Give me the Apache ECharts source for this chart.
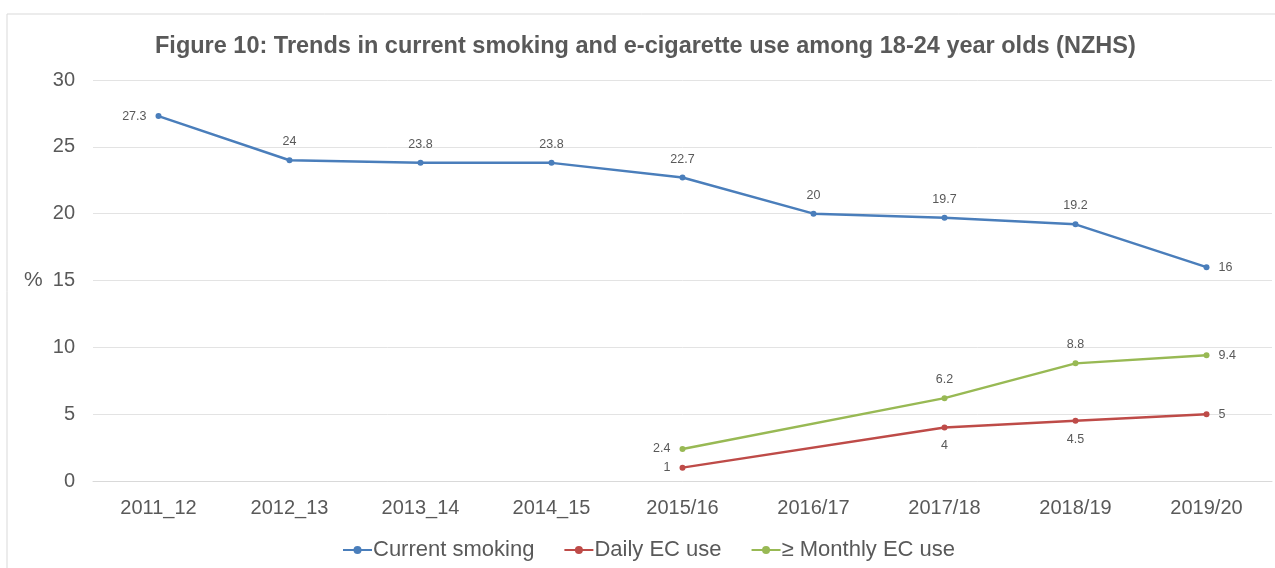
<!DOCTYPE html>
<html><head><meta charset="utf-8">
<script src="https://cdn.jsdelivr.net/npm/echarts@6/dist/echarts.min.js"></script>
<style>html,body{margin:0;padding:0;background:#fff}#c{width:1275px;height:568px}</style>
</head><body><div id="c"></div>
<script>
const categories = ['2011_12','2012_13','2013_14','2014_15','2015/16','2016/17','2017/18','2018/19','2019/20'];
const currentSmoking = [27.3, 24, 23.8, 23.8, 22.7, 20, 19.7, 19.2, 16];
const dailyEC = [null, null, null, null, 1, null, 4, 4.5, 5];
const monthlyEC = [null, null, null, null, 2.4, null, 6.2, 8.8, 9.4];
const yTicks = [0, 5, 10, 15, 20, 25, 30];

const txt = '#595959';
const font = 'Liberation Sans';
function labeled(values, positions){
  return values.map((v,i)=> v==null ? null : {value:v, label:{position:positions[i]}});
}
const chart = echarts.init(document.getElementById('c'), null, {renderer:'canvas'});
chart.setOption({
  animation:false,
  backgroundColor:'#fff',
  textStyle:{fontFamily:font},
  title:{text:'Figure 10: Trends in current smoking and e-cigarette use among 18-24 year olds (NZHS)',
    left:150, top:30, textStyle:{fontFamily:font, fontWeight:'bold', fontSize:23.5, color:txt}},
  graphic:[{type:'rect', shape:{x:7,y:14,width:1300,height:600}, style:{fill:'none', stroke:'#d9d9d9', lineWidth:1}, silent:true},
    {type:'text', left:24, top:270, style:{text:'%', fontSize:21, fill:txt, fontFamily:font}}],
  legend:{bottom:2, left:337, itemGap:29, itemWidth:29, itemHeight:10,
    textStyle:{fontSize:22, color:txt, fontFamily:font, padding:[0,0,0,-4]}},
  grid:{left:93, right:3, top:80, bottom:87, containLabel:false},
  xAxis:{type:'category', data:categories, boundaryGap:true,
    axisLine:{lineStyle:{color:'#d9d9d9'}}, axisTick:{show:false},
    axisLabel:{color:txt, fontSize:20, margin:17, fontFamily:font}},
  yAxis:{type:'value', min:yTicks[0], max:yTicks[yTicks.length-1], interval:5,
    axisLine:{show:false}, axisTick:{show:false},
    splitLine:{lineStyle:{color:'#e3e3e3'}},
    axisLabel:{color:txt, fontSize:20, margin:18, fontFamily:font}},
  series:[
    {name:'Current smoking', type:'line', data:labeled(currentSmoking,['left','top','top','top','top','top','top','top','right']),
      color:'#4a7ebb', lineStyle:{width:2.5}, symbol:'circle', symbolSize:6,
      label:{show:true, fontSize:12.5, color:txt, distance:9, fontFamily:font}},
    {name:'Daily EC use', type:'line', data:labeled(dailyEC,[0,0,0,0,'left',0,'bottom','bottom','right']), connectNulls:true,
      color:'#be4b48', lineStyle:{width:2.5}, symbol:'circle', symbolSize:6,
      label:{show:true, fontSize:12.5, color:txt, distance:9, fontFamily:font}},
    {name:'≥ Monthly EC use', type:'line', data:labeled(monthlyEC,[0,0,0,0,'left',0,'top','top','right']), connectNulls:true,
      color:'#98b954', lineStyle:{width:2.5}, symbol:'circle', symbolSize:6,
      label:{show:true, fontSize:12.5, color:txt, distance:9, fontFamily:font}}
  ]
});
</script></body></html>
